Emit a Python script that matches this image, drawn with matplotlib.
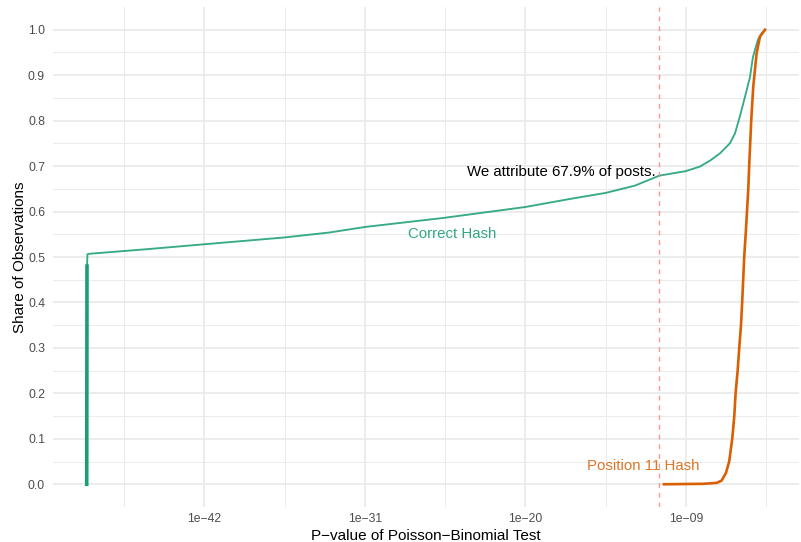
import matplotlib.pyplot as plt
from matplotlib.ticker import FixedLocator, FixedFormatter
import numpy as np

plt.rcParams['font.family'] = ['Liberation Sans', 'DejaVu Sans']

# ECDF of test p-values, x given as log10(p)
green_logp = [-50.05, -50.03, -50.0, -49.9, -46.0, -42.0, -36.5, -33.4, -31.0, -25.6,
              -20.0, -16.9, -14.5, -12.5, -10.82, -9.0, -8.04, -7.31, -6.67, -5.99,
              -5.64, -5.30, -4.96, -4.62, -4.41, -4.07, -3.80, -3.58]
green_share = [0.0, 0.48, 0.506, 0.507, 0.517, 0.528, 0.543, 0.554, 0.566, 0.586,
               0.61, 0.628, 0.641, 0.657, 0.679, 0.689, 0.699, 0.713, 0.728, 0.75,
               0.772, 0.81, 0.852, 0.895, 0.94, 0.978, 0.993, 1.0]

orange_logp = [-10.51, -7.84, -6.90, -6.56, -6.26, -6.04, -5.83, -5.69, -5.60, -5.46,
               -5.35, -5.23, -5.15, -5.08, -5.01, -4.91, -4.82, -4.73, -4.67, -4.53,
               -4.39, -4.16, -3.93, -3.58]
orange_share = [0.0, 0.001, 0.003, 0.008, 0.025, 0.05, 0.1, 0.15, 0.2, 0.25,
                0.3, 0.35, 0.4, 0.45, 0.5, 0.55, 0.6, 0.65, 0.7, 0.8,
                0.875, 0.948, 0.985, 1.0]

cutoff_logp = -10.82
attributed = 0.679

x_major = [-42, -31, -20, -9]
x_minor = [-47.5, -36.5, -25.5, -14.5, -3.5]
x_labels = ['1e\u221242', '1e\u221231', '1e\u221220', '1e\u221209']
y_major = np.arange(0, 1.01, 0.1)
y_minor = np.arange(0.05, 1.0, 0.1)

green = '#1b9e77'
orange = '#d95f02'

fig = plt.figure(figsize=(8.01, 5.42), dpi=100)
ax = fig.add_axes([52.8 / 801, 35 / 542, 746.2 / 801, 500 / 542])

# ggplot-like minimal theme
for s in ax.spines.values():
    s.set_visible(False)
ax.set_xscale('log')
lo, hi = min(green_logp), max(green_logp)
pad = 0.05 * (hi - lo)
ax.set_xlim(10 ** (lo - pad), 10 ** (hi + pad))
ax.set_ylim(-0.05, 1.05)

ax.xaxis.set_major_locator(FixedLocator([10.0 ** v for v in x_major]))
ax.xaxis.set_major_formatter(FixedFormatter(x_labels))
ax.xaxis.set_minor_locator(FixedLocator([10.0 ** v for v in x_minor]))
ax.xaxis.set_minor_formatter(FixedFormatter([''] * len(x_minor)))
ax.set_yticks(y_major)
ax.set_yticklabels([f'{v:.1f}' for v in y_major])
ax.set_yticks(y_minor, minor=True)

ax.grid(True, which='major', color='#ebebeb', lw=1.35)
ax.grid(True, which='minor', color='#ebebeb', lw=0.7)
ax.set_axisbelow(True)
ax.tick_params(which='both', length=0, labelsize=8.8, labelcolor='#4d4d4d')
ax.tick_params(axis='y', pad=5.6)
ax.tick_params(axis='x', pad=4.3)

gx = [10.0 ** v for v in green_logp]
ox = [10.0 ** v for v in orange_logp]
ax.plot(gx, green_share, color=green, lw=1.35, alpha=0.88)
ax.plot(gx[:2], green_share[:2], color=green, lw=2.6)
ax.plot(ox, orange_share, color=orange, lw=1.9)

ax.axvline(10 ** cutoff_logp, color='#ff7a7a', alpha=0.8, lw=1.0, dashes=(3.5, 3.5))

ax.text(10 ** (cutoff_logp - 0.27), 0.686, f'We attribute {attributed * 100:.1f}% of posts.',
        ha='right', va='center', fontsize=10.8, color='black')
ax.text(10 ** -25.0, 0.55, 'Correct Hash', ha='center', va='center',
        fontsize=10.8, color=green, alpha=0.9)
ax.text(10 ** -11.94, 0.04, 'Position 11 Hash', ha='center', va='center',
        fontsize=10.8, color=orange, alpha=0.85)

ax.set_xlabel('P\u2212value of Poisson\u2212Binomial Test', fontsize=11, labelpad=3)
ax.set_ylabel('Share of Observations', fontsize=11, labelpad=1)

fig.savefig('out.png', dpi=100)
